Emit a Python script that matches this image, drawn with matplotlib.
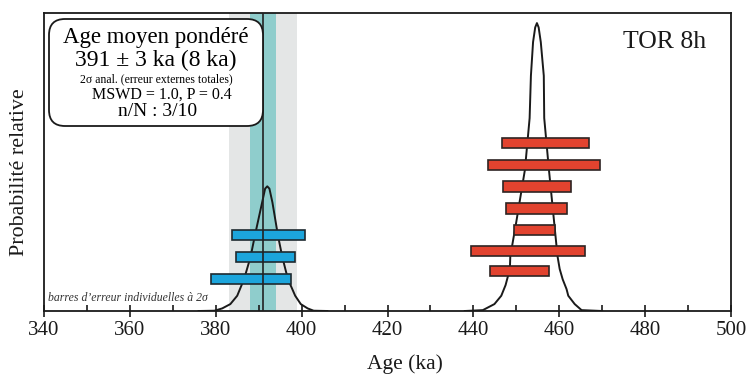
import matplotlib
matplotlib.use("Agg")
import matplotlib.pyplot as plt
from matplotlib.patches import FancyBboxPatch
from matplotlib.transforms import IdentityTransform
from matplotlib.ticker import MultipleLocator

plt.rcParams['font.family'] = ['Liberation Serif', 'DejaVu Serif']

# --- data ---
mean_age = 391
err_anal = 3
err_total = 8

blue_centers = [392.2, 391.5, 388.2]
blue_halfw = [8.5, 6.9, 9.3]
blue_levels = [0.264, 0.1875, 0.111]

red_centers = [456.8, 456.4, 454.8, 454.8, 454.3, 452.8, 450.7]
red_halfw = [10.2, 13.1, 7.9, 7.1, 4.8, 13.3, 6.9]
red_levels = [0.583, 0.507, 0.432, 0.356, 0.281, 0.208, 0.139]

red_curve_age = [438.0, 442.2, 444.9, 446.5, 447.5, 448.5, 448.6, 450.0, 452.0, 453.1,
                 453.4, 453.9, 454.4, 454.8, 455.2, 455.7, 456.4, 456.5, 457.6, 458.8,
                 459.6, 460.1, 460.8, 461.7, 462.1, 463.6, 465.2, 470.0]
red_curve_p = [0.0, 0.003, 0.024, 0.053, 0.09, 0.146, 0.19, 0.31, 0.49, 0.67,
               0.817, 0.934, 0.985, 1.0, 0.985, 0.934, 0.817, 0.67, 0.49, 0.31,
               0.19, 0.146, 0.11, 0.076, 0.053, 0.024, 0.003, 0.0]

blue_curve_age = [376.0, 379.7, 381.5, 383.4, 385.0, 386.6, 388.1, 389.1, 390.8, 391.5,
                  392.0, 392.5, 393.2, 394.5, 395.5, 396.8, 398.5, 399.8, 401.4, 402.8, 406.0]
blue_curve_p = [0.0, 0.001, 0.009, 0.024, 0.053, 0.111, 0.1875, 0.261, 0.377, 0.425,
                0.433, 0.425, 0.377, 0.261, 0.1875, 0.111, 0.053, 0.024, 0.009, 0.001, 0.0]

xticks = [340, 360, 380, 400, 420, 440, 460, 480, 500]

W, H = 750, 378
fig = plt.figure(figsize=(W / 100, H / 100), dpi=100)
ax = fig.add_axes([44 / W, (H - 311) / H, 687 / W, 298 / H])
ax.set_xlim(340, 500)
ax.set_ylim(0, 1.035)

# bands
ax.axvspan(mean_age - err_total, mean_age + err_total, color='#e4e6e6', lw=0, zorder=0)
ax.axvspan(mean_age - err_anal, mean_age + err_anal, color='#8fcdcc', lw=0, zorder=1)
ax.axvline(mean_age, color='#222222', lw=1.2, zorder=5)

# curves
ax.plot(red_curve_age, red_curve_p, color='#1a1a1a', lw=1.4, zorder=3)
ax.plot(blue_curve_age, blue_curve_p, color='#1a1a1a', lw=1.4, zorder=3)

bh = 0.036
ax.barh(blue_levels, [2 * h for h in blue_halfw],
        left=[c - h for c, h in zip(blue_centers, blue_halfw)],
        height=bh, color='#1ca5dc', edgecolor='#1e2a30', lw=1.2, zorder=4)
ax.barh(red_levels, [2 * h for h in red_halfw],
        left=[c - h for c, h in zip(red_centers, red_halfw)],
        height=bh, color='#e2432f', edgecolor='#2e2422', lw=1.2, zorder=4)

# axes styling
for s in ax.spines.values():
    s.set_linewidth(1.3)
    s.set_color('#1a1a1a')
ax.set_xticks(xticks)
ax.set_xticklabels([str(t) for t in xticks])
ax.xaxis.set_minor_locator(MultipleLocator(10))
ax.tick_params(axis='x', which='major', direction='inout', length=8, width=1.2,
               labelsize=15, pad=3, colors='#1a1a1a')
ax.tick_params(axis='x', which='minor', direction='in', length=4, width=1.2, colors='#1a1a1a')
ax.set_yticks([])

fig.text(405 / W, 1 - 364 / H, 'Age (ka)', fontsize=15.5, ha='center', va='center', color='#1a1a1a')
fig.text(20 / W, 1 - 172 / H, 'Probabilité relative', fontsize=15.8, rotation=90,
         ha='center', va='center', color='#1a1a1a')

# annotation box
box = FancyBboxPatch((49, H - 126), 214, 107, boxstyle='round,pad=0,rounding_size=16',
                     transform=IdentityTransform(), facecolor='white', edgecolor='#1a1a1a',
                     lw=1.3, zorder=6)
ax.add_patch(box)
cx = 156 / W
fig.text(cx, 1 - 37 / H, 'Age moyen pondéré', fontsize=16.5, ha='center', va='center', zorder=7)
fig.text(cx, 1 - 60 / H, '391 ± 3 ka (8 ka)', fontsize=17, ha='center', va='center', zorder=7)
fig.text(cx, 1 - 79 / H, '2σ anal. (erreur externes totales)', fontsize=8.5, ha='center',
         va='center', zorder=7)
fig.text(162 / W, 1 - 95 / H, 'MSWD = 1.0, P = 0.4', fontsize=11.5, ha='center', va='center', zorder=7)
fig.text(158 / W, 1 - 112 / H, 'n/N : 3/10', fontsize=14, ha='center', va='center', zorder=7)

fig.text(665 / W, 1 - 42 / H, 'TOR 8h', fontsize=18.5, ha='center', va='center', color='#1a1a1a')
fig.text(48 / W, 1 - 298 / H, 'barres d’erreur individuelles à 2σ', fontsize=8.5,
         style='italic', ha='left', va='center', color='#333333')

fig.savefig('out.png', dpi=100)
